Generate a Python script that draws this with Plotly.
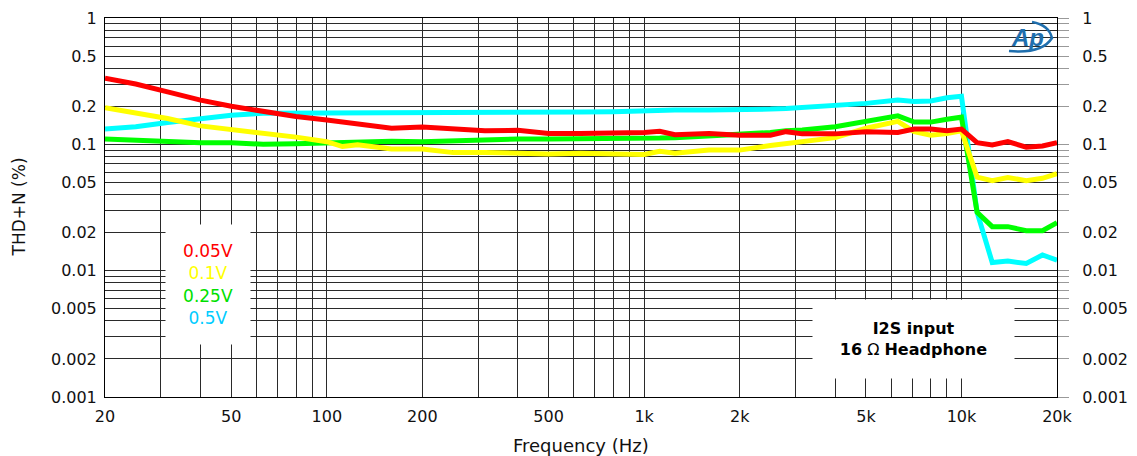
import plotly.graph_objects as go
import math

freqs = [20, 25, 31.5, 40, 50, 63, 80, 100, 112, 125, 160, 200, 250, 315, 400, 500, 630, 800,
         1000, 1120, 1250, 1600, 2000, 2500, 2800, 3150, 4000, 5000, 6300, 7100, 8000, 9000,
         10000, 11200, 12500, 14000, 16000, 18000, 20000]

thd_005 = [0.333, 0.30, 0.26, 0.224, 0.20, 0.182, 0.166, 0.156, 0.15, 0.146, 0.134, 0.137, 0.132,
           0.128, 0.129, 0.122, 0.122, 0.122, 0.124, 0.127, 0.119, 0.122, 0.118, 0.118, 0.126,
           0.121, 0.121, 0.126, 0.124, 0.132, 0.132, 0.128, 0.132, 0.103, 0.099, 0.105, 0.095,
           0.097, 0.103]
thd_01 = [0.195, 0.176, 0.16, 0.140, 0.132, 0.124, 0.114, 0.105, 0.096, 0.099, 0.092, 0.092, 0.086,
          0.086, 0.085, 0.084, 0.085, 0.084, 0.083, 0.088, 0.085, 0.090, 0.090, 0.098, 0.101,
          0.105, 0.113, 0.134, 0.152, 0.126, 0.118, 0.122, 0.128, 0.055, 0.0516, 0.0547, 0.0516,
          0.0538, 0.0585]
thd_025 = [0.110, 0.107, 0.105, 0.103, 0.103, 0.100, 0.101, 0.103, 0.104, 0.105, 0.106, 0.105, 0.107,
           0.108, 0.110, 0.110, 0.110, 0.110, 0.111, 0.112, 0.113, 0.116, 0.120, 0.124, 0.128,
           0.130, 0.138, 0.152, 0.168, 0.150, 0.150, 0.158, 0.164, 0.029, 0.0223, 0.0223, 0.0207,
           0.0207, 0.024]
thd_05 = [0.132, 0.138, 0.149, 0.160, 0.170, 0.176, 0.176, 0.176, 0.178, 0.180, 0.180, 0.180, 0.180,
          0.180, 0.180, 0.180, 0.180, 0.181, 0.184, 0.187, 0.187, 0.187, 0.187, 0.190, 0.192,
          0.195, 0.205, 0.211, 0.224, 0.218, 0.22, 0.234, 0.240, 0.029, 0.0116, 0.0119, 0.0114,
          0.0133, 0.0121]

series_names = ["0.05V", "0.1V", "0.25V", "0.5V"]
line_colors = ["#ff0000", "#ffff00", "#00ff00", "#00ffff"]
legend_text_colors = ["#ff0000", "#ffff00", "#00e000", "#00ccff"]

x_grid = [20, 30, 40, 50, 60, 70, 80, 90, 100, 200, 300, 400, 500, 600, 700, 800, 900,
          1000, 2000, 3000, 4000, 5000, 6000, 7000, 8000, 9000, 10000, 20000]
x_labels = {20: "20", 50: "50", 100: "100", 200: "200", 500: "500", 1000: "1k",
            2000: "2k", 5000: "5k", 10000: "10k", 20000: "20k"}
y_grid = [0.001, 0.002, 0.003, 0.004, 0.005, 0.006, 0.007, 0.008, 0.009,
          0.01, 0.02, 0.03, 0.04, 0.05, 0.06, 0.07, 0.08, 0.09,
          0.1, 0.2, 0.3, 0.4, 0.5, 0.6, 0.7, 0.8, 0.9, 1]
y_labels = {0.001: "0.001", 0.002: "0.002", 0.005: "0.005", 0.01: "0.01", 0.02: "0.02",
            0.05: "0.05", 0.1: "0.1", 0.2: "0.2", 0.5: "0.5", 1: "1"}

FONT = "DejaVu Sans, Liberation Sans, Arial, sans-serif"

fig = go.Figure()
series = [thd_005, thd_01, thd_025, thd_05]
for i in [3, 2, 1, 0]:
    fig.add_trace(go.Scatter(x=freqs, y=series[i], mode="lines", name=series_names[i],
                             line=dict(color=line_colors[i], width=5), showlegend=False))

# invisible trace carrying the right-hand axis
fig.add_trace(go.Scatter(x=[20, 20000], y=[0.001, 1], yaxis="y2", mode="markers",
                         marker=dict(opacity=0), showlegend=False, hoverinfo="skip"))

fig.update_layout(
    width=1129, height=448,
    margin=dict(l=97, r=80, t=10, b=59, autoexpand=False),
    paper_bgcolor="white", plot_bgcolor="white",
    font=dict(family=FONT, size=16, color="#111"),
    xaxis=dict(type="log", range=[math.log10(20), math.log10(20000)],
               tickvals=x_grid, ticktext=[x_labels.get(v, "") for v in x_grid],
               showgrid=True, gridcolor="#2a2a2a", gridwidth=1,
               showline=True, linecolor="black", linewidth=1, mirror=True,
               ticks="", zeroline=False, ticklabelstandoff=5, automargin=False),
    yaxis=dict(type="log", range=[-3, 0],
               tickvals=y_grid, ticktext=[y_labels.get(v, "") for v in y_grid],
               showgrid=True, gridcolor="#2a2a2a", gridwidth=1,
               showline=True, linecolor="black", linewidth=1, mirror=True,
               ticks="", zeroline=False, ticklabelstandoff=4, automargin=False),
    yaxis2=dict(type="log", range=[-3, 0], overlaying="y", side="right",
                tickvals=y_grid, ticktext=[y_labels.get(v, "") for v in y_grid],
                showgrid=False, ticks="outside", ticklen=11, tickcolor="#999",
                tickwidth=1, showline=False, zeroline=False, ticklabelstandoff=10,
                automargin=False),
)

# helpers: page pixel -> paper coordinate (plot area spans x 105..1057, y 18..397)
def px2paper_x(px):
    return (px - 105) / (1057 - 105)

def px2paper_y(py):
    return 1 - (py - 18) / (397 - 18)

# axis titles
fig.add_annotation(xref="paper", yref="paper", x=px2paper_x(18), y=0.5,
                   text="THD+N (%)", textangle=-90, showarrow=False,
                   font=dict(size=17), xanchor="center", yanchor="middle")
fig.add_annotation(xref="paper", yref="paper", x=0.5, y=px2paper_y(445),
                   text="Frequency (Hz)", showarrow=False,
                   font=dict(size=18), xanchor="center", yanchor="middle")

# legend box
legend_html = "<br>".join(
    "<span style='color:{}'>{}</span>".format(c, n)
    for n, c in zip(series_names, legend_text_colors))
fig.add_annotation(xref="paper", yref="paper", x=px2paper_x(208), y=px2paper_y(284),
                   text=legend_html, showarrow=False, font=dict(size=17),
                   width=82, height=117, bgcolor="white", borderpad=1,
                   align="center", valign="middle",
                   xanchor="center", yanchor="middle")

# condition box
fig.add_annotation(xref="paper", yref="paper", x=px2paper_x(913), y=px2paper_y(339),
                   text="<b>I2S input</b><br><b>16</b> Ω <b>Headphone</b>",
                   showarrow=False, font=dict(size=16, color="black"),
                   width=199, height=76, bgcolor="white", borderpad=1,
                   align="center", valign="middle",
                   xanchor="center", yanchor="middle")

# Ap logo
fig.add_annotation(xref="paper", yref="paper", x=px2paper_x(1027), y=px2paper_y(38),
                   text="<b><i>Ap</i></b>", showarrow=False,
                   font=dict(size=24, color="#1f6fae", family="Liberation Sans, Arial"),
                   xanchor="center", yanchor="middle")
pts = [(1009, 51), (1042, 54), (1052, 38), (1049, 25), (1032, 22)]
path = "M {} {} Q {} {} {} {} Q {} {} {} {}".format(
    px2paper_x(pts[0][0]), px2paper_y(pts[0][1]),
    px2paper_x(pts[1][0]), px2paper_y(pts[1][1]),
    px2paper_x(pts[2][0]), px2paper_y(pts[2][1]),
    px2paper_x(pts[3][0]), px2paper_y(pts[3][1]),
    px2paper_x(pts[4][0]), px2paper_y(pts[4][1]))
fig.add_shape(type="path", xref="paper", yref="paper", path=path,
              line=dict(color="#1f6fae", width=2.5), layer="above")

fig.write_html("out.html")
